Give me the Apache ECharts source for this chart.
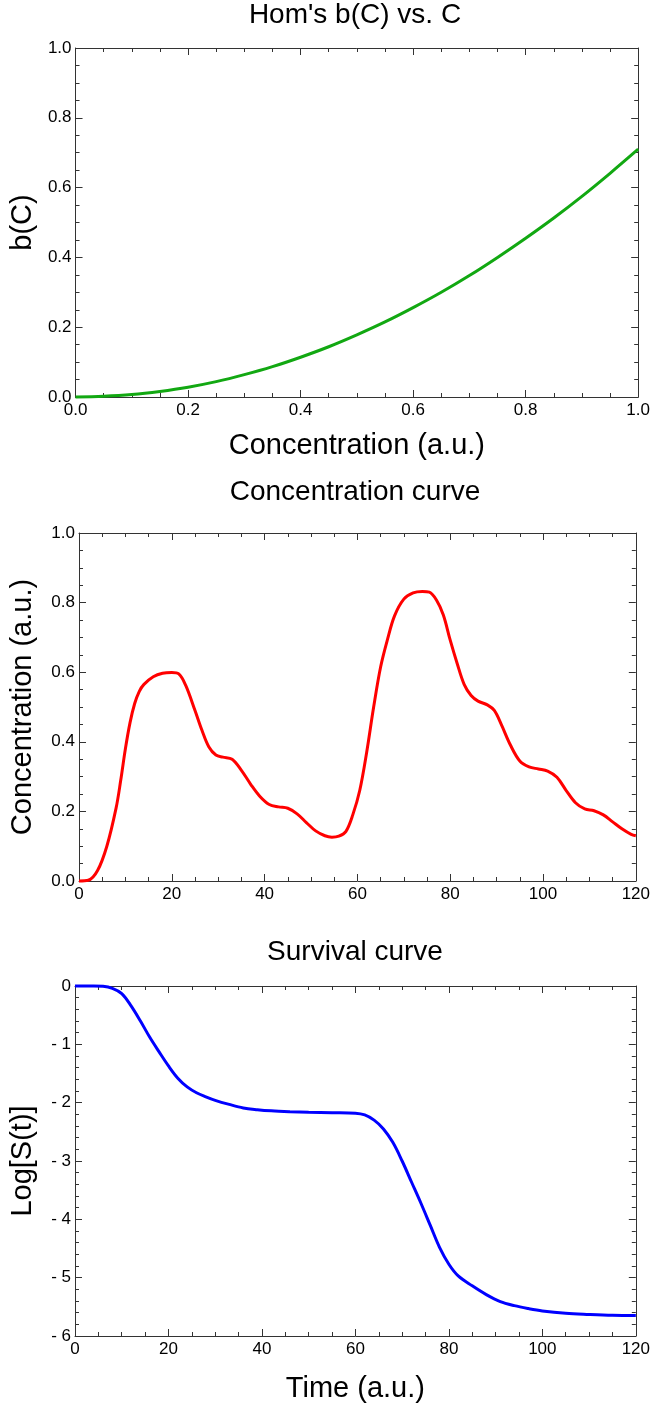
<!DOCTYPE html>
<html>
<head>
<meta charset="utf-8">
<script src="https://cdn.jsdelivr.net/npm/echarts@6/dist/echarts.min.js"></script>
<style>
html,body{margin:0;padding:0;background:#fff;}
#chart{width:653px;height:1405px;}
</style>
</head>
<body>
<div id="chart"></div>
<script>
// ---- Data ----
const titles = ["Hom's b(C) vs. C", "Concentration curve", "Survival curve"];

const bConc = [0, 0.05, 0.1, 0.15, 0.2, 0.25, 0.3, 0.35, 0.4, 0.45, 0.5, 0.55, 0.6, 0.65, 0.7, 0.75, 0.8, 0.85, 0.9, 0.95, 1.0];
const bValues = [0, 0.002, 0.007, 0.016, 0.028, 0.044, 0.064, 0.087, 0.114, 0.144, 0.178, 0.215, 0.256, 0.300, 0.348, 0.400, 0.455, 0.513, 0.575, 0.641, 0.71];

const concTime = [0, 2, 4, 6, 8, 9, 10, 11, 12, 13, 14, 16, 18, 20, 21.5, 23, 25, 26.5, 28, 29.5, 31, 33, 35, 37, 39, 41, 43, 45, 47, 49, 51, 53, 54.5, 56, 57.5, 59, 60.5, 62, 63.5, 65, 66.5, 68, 70, 72, 74, 75.5, 77, 78.5, 80, 81.5, 83, 84.5, 86, 88, 89.5, 91, 93, 95, 97, 99, 101, 103, 105, 107, 109, 111, 113, 115, 117, 119, 120];
const concValues = [0, 0.002, 0.03, 0.1, 0.21, 0.29, 0.38, 0.455, 0.51, 0.545, 0.565, 0.587, 0.597, 0.599, 0.595, 0.562, 0.49, 0.433, 0.385, 0.362, 0.356, 0.35, 0.318, 0.278, 0.243, 0.22, 0.213, 0.209, 0.193, 0.168, 0.144, 0.13, 0.126, 0.129, 0.142, 0.19, 0.26, 0.37, 0.5, 0.615, 0.695, 0.762, 0.81, 0.828, 0.832, 0.83, 0.808, 0.765, 0.692, 0.625, 0.565, 0.533, 0.517, 0.506, 0.49, 0.45, 0.39, 0.345, 0.328, 0.322, 0.316, 0.298, 0.26, 0.225, 0.207, 0.202, 0.19, 0.17, 0.15, 0.134, 0.13];

const survTime = [0, 4, 6, 8, 10, 12, 14, 16, 18, 20, 22, 24, 26, 28, 30, 33, 36, 39, 42, 46, 50, 55, 60, 62, 64, 66, 68, 70, 72, 74, 76, 78, 80, 82, 85, 88, 91, 94, 97, 100, 105, 110, 115, 120];
const survValues = [0, 0, -0.005, -0.04, -0.13, -0.34, -0.6, -0.88, -1.13, -1.37, -1.58, -1.73, -1.83, -1.9, -1.96, -2.03, -2.09, -2.12, -2.14, -2.155, -2.165, -2.172, -2.18, -2.21, -2.3, -2.45, -2.68, -3.0, -3.36, -3.72, -4.1, -4.48, -4.77, -4.97, -5.14, -5.29, -5.41, -5.48, -5.53, -5.57, -5.61, -5.63, -5.645, -5.65];

const xAxisNames = ["Concentration (a.u.)", "", "Time (a.u.)"];
const yAxisNames = ["b(C)", "Concentration (a.u.)", "Log[S(t)]"];

// ---- Layout / style ----
const FONT = "Liberation Sans, Arial, sans-serif";
const AXIS_COLOR = "#333";
const grids = [
  {left: 72, right: 14, top: 48, height: 349},
  {left: 72, right: 14, top: 533, height: 348},
  {left: 67, right: 14, top: 986, height: 350}
];
const xRanges = [{min: 0, max: 1, interval: 0.2}, {min: 0, max: 120, interval: 20}, {min: 0, max: 120, interval: 20}];
const yRanges = [{min: 0, max: 1, interval: 0.2, split: 4}, {min: 0, max: 1, interval: 0.2, split: 4}, {min: -6, max: 0, interval: 1, split: 5}];
const xFmt = [v => v.toFixed(1), v => String(v), v => String(v)];
const yFmt = [v => v.toFixed(1), v => v.toFixed(1), v => (v < 0 ? "- " + Math.abs(v) : String(v))];
const colors = ["#12a812", "#ff0000", "#0000ff"];
const seriesData = [
  bConc.map((c, i) => [c, bValues[i]]),
  concTime.map((t, i) => [t, concValues[i]]),
  survTime.map((t, i) => [t, survValues[i]])
];
const titleTops = [1, 478, 938];
const xNameGaps = [34, 34, 38];
const yNameGaps = [38, 42, 38];

const xAxes = [], yAxes = [], series = [], titleArr = [];
for (let k = 0; k < 3; k++) {
  titleArr.push({
    text: titles[k], left: 355, top: titleTops[k], textAlign: "center", padding: 0,
    textStyle: {fontFamily: FONT, fontSize: 28, fontWeight: "normal", color: "#000"}
  });
  const xr = xRanges[k], yr = yRanges[k];
  const commonTick = {show: true, inside: true, length: 7, lineStyle: {color: AXIS_COLOR, width: 1}};
  const commonMinor = {show: true, splitNumber: 4, length: 4, lineStyle: {color: AXIS_COLOR, width: 1}};
  xAxes.push({
    type: "value", gridIndex: k, position: "bottom", min: xr.min, max: xr.max, interval: xr.interval,
    axisLine: {show: true, onZero: false, lineStyle: {color: AXIS_COLOR, width: 1}},
    axisTick: commonTick, minorTick: commonMinor, splitLine: {show: false},
    axisLabel: {fontFamily: FONT, fontSize: 17, color: "#000", margin: 5, formatter: xFmt[k]},
    name: xAxisNames[k], nameLocation: "middle", nameGap: xNameGaps[k],
    nameTextStyle: {fontFamily: FONT, fontSize: 29, color: "#000"}
  });
  xAxes.push({
    type: "value", gridIndex: k, position: "top", min: xr.min, max: xr.max, interval: xr.interval,
    axisLine: {show: true, onZero: false, lineStyle: {color: AXIS_COLOR, width: 1}},
    axisTick: commonTick, minorTick: commonMinor, splitLine: {show: false},
    axisLabel: {show: false}
  });
  yAxes.push({
    type: "value", gridIndex: k, position: "left", min: yr.min, max: yr.max, interval: yr.interval,
    axisLine: {show: true, onZero: false, lineStyle: {color: AXIS_COLOR, width: 1}},
    axisTick: commonTick, minorTick: Object.assign({}, commonMinor, {splitNumber: yr.split}), splitLine: {show: false},
    axisLabel: {fontFamily: FONT, fontSize: 17, color: "#000", margin: 4, formatter: yFmt[k]},
    name: yAxisNames[k], nameLocation: "middle", nameGap: yNameGaps[k], nameRotate: 90,
    nameTextStyle: {fontFamily: FONT, fontSize: 29, color: "#000"}
  });
  yAxes.push({
    type: "value", gridIndex: k, position: "right", min: yr.min, max: yr.max, interval: yr.interval,
    axisLine: {show: true, onZero: false, lineStyle: {color: AXIS_COLOR, width: 1}},
    axisTick: commonTick, minorTick: Object.assign({}, commonMinor, {splitNumber: yr.split}), splitLine: {show: false},
    axisLabel: {show: false}
  });
  series.push({
    type: "line", xAxisIndex: 2 * k, yAxisIndex: 2 * k, data: seriesData[k],
    smooth: 0.35, showSymbol: false, symbol: "none", clip: false,
    lineStyle: {color: colors[k], width: 3}, animation: false
  });
}

const chart = echarts.init(document.getElementById("chart"), null, {renderer: "canvas"});
chart.setOption({
  backgroundColor: "#fff",
  animation: false,
  title: titleArr,
  grid: grids,
  xAxis: xAxes,
  yAxis: yAxes,
  series: series
});
</script>
</body>
</html>
